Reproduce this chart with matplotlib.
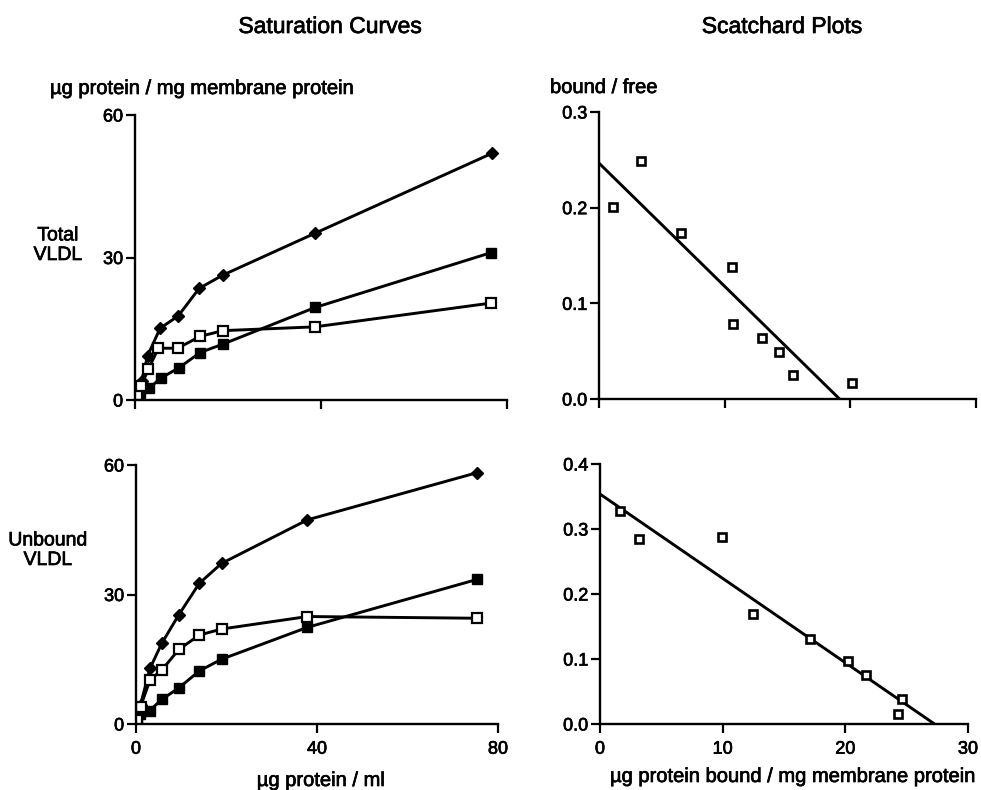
import numpy as np
import matplotlib
matplotlib.use('Agg')
import matplotlib.pyplot as plt
import matplotlib.patheffects as pe

# Saturation curves, total VLDL (top left)
tot_x_circ = [0.4, 1.4, 2.7, 5.4, 9.3, 13.8, 18.9, 38.7, 76.7]
tot_y_circ = [1.5, 3.9, 9.3, 15.1, 17.7, 23.5, 26.3, 35.1, 51.9]
tot_x_fill = [0.3, 1.1, 3.1, 5.5, 9.5, 14.0, 19.0, 38.8, 76.5]
tot_y_fill = [0.8, 1.4, 2.5, 4.6, 6.8, 10.0, 11.8, 19.5, 31.0]
tot_x_open = [0.4, 1.3, 2.9, 5.0, 9.2, 14.0, 18.9, 38.7, 76.5]
tot_y_open = [1.0, 3.0, 6.5, 10.9, 10.9, 13.4, 14.6, 15.4, 20.4]

# Saturation curves, unbound VLDL (bottom left)
unb_x_circ = [0.3, 1.0, 3.1, 5.7, 9.4, 14.0, 18.9, 37.9, 75.3]
unb_y_circ = [1.5, 4.5, 12.9, 18.7, 25.2, 32.6, 37.2, 47.3, 58.2]
unb_x_fill = [0.3, 0.9, 3.0, 5.7, 9.4, 14.0, 18.9, 37.9, 75.4]
unb_y_fill = [0.6, 2.3, 3.1, 5.7, 8.3, 12.3, 15.0, 22.4, 33.5]
unb_x_open = [0.3, 1.0, 3.1, 5.7, 9.5, 14.0, 18.9, 37.9, 75.3]
unb_y_open = [1.0, 4.0, 10.2, 12.5, 17.3, 20.6, 22.0, 24.9, 24.5]

# Scatchard plots
sc_tot_x = [1.1, 3.35, 6.5, 10.6, 10.7, 13.0, 14.3, 15.4, 20.1]
sc_tot_y = [0.201, 0.249, 0.174, 0.138, 0.078, 0.064, 0.049, 0.025, 0.017]
sc_unb_x = [1.66, 3.17, 9.98, 12.5, 17.1, 20.2, 21.7, 24.6, 24.3]
sc_unb_y = [0.328, 0.285, 0.288, 0.170, 0.131, 0.097, 0.076, 0.039, 0.016]

W, H = 981, 790
plt.rcParams['font.family'] = ['Liberation Sans', 'DejaVu Sans']
plt.rcParams['xtick.labelsize'] = 13
plt.rcParams['ytick.labelsize'] = 13

fig = plt.figure(figsize=(W / 100, H / 100), dpi=100)


def px_axes(x0, y0, x1, y1):
    # pixel box (left, top, right, bottom) -> axes
    return fig.add_axes([x0 / W, 1 - y1 / H, (x1 - x0) / W, (y1 - y0) / H])


def style(ax):
    for s in ['top', 'right']:
        ax.spines[s].set_visible(False)
    for s in ['left', 'bottom']:
        ax.spines[s].set_linewidth(1.7)
    ax.tick_params(axis='x', direction='out', length=6.5, width=1.6, pad=5.5)
    ax.tick_params(axis='y', direction='out', length=6.5, width=1.6, pad=2)


lw = 2.1


def saturation(ax, xc, yc, xf, yf, xo, yo):
    ax.plot(xc, yc, '-', color='black', lw=lw, marker='D', ms=6.5, mfc='black', mec='black')
    ax.plot(xf, yf, '-', color='black', lw=lw, marker='s', ms=6.5, mfc='black', mec='black')
    ax.plot(xo, yo, '-', color='black', lw=lw, marker='s', ms=6.5, mfc='white', mec='black', mew=1.6)
    ax.set_xlim(0, 80)
    ax.set_ylim(0, 60)
    ax.set_xticks([0, 40, 80])
    ax.set_yticks([0, 30, 60])
    style(ax)


def scatchard(ax, x, y, ymax):
    m, b = np.polyfit(x, y, 1)
    xl = np.array([0, -b / m])
    ax.plot(xl, m * xl + b, '-', color='black', lw=lw)
    ax.plot(x, y, 's', ms=6.2, mfc='white', mec='black', mew=1.9, ls='none')
    ax.set_xlim(0, 30)
    ax.set_ylim(0, ymax)
    ax.set_xticks([0, 10, 20, 30])
    ax.set_yticks(np.arange(0, ymax + 0.01, 0.1))
    ax.yaxis.set_major_formatter(matplotlib.ticker.FormatStrFormatter('%.1f'))
    style(ax)


ax1 = px_axes(135, 115, 507, 400)
saturation(ax1, tot_x_circ, tot_y_circ, tot_x_fill, tot_y_fill, tot_x_open, tot_y_open)
ax1.set_xticklabels([])

ax2 = px_axes(136, 465, 498, 724)
saturation(ax2, unb_x_circ, unb_y_circ, unb_x_fill, unb_y_fill, unb_x_open, unb_y_open)

ax3 = px_axes(599, 112, 976, 399)
scatchard(ax3, sc_tot_x, sc_tot_y, 0.3)
ax3.set_xticklabels([])

ax4 = px_axes(600, 464, 968, 724)
scatchard(ax4, sc_unb_x, sc_unb_y, 0.4)


def ftext(x, y, s, size, ha='center', va='baseline'):
    fig.text(x / W, 1 - y / H, s, fontsize=size, ha=ha, va=va, linespacing=1.2)


ftext(330, 33, 'Saturation Curves', 16.5)
ftext(782, 33, 'Scatchard Plots', 16.5)
ftext(50, 94, 'µg protein / mg membrane protein', 14.5, ha='left')
ftext(550, 93, 'bound / free', 14.5, ha='left')
ftext(58, 260, 'Total\nVLDL', 14)
ftext(48, 565, 'Unbound\nVLDL', 14)
ftext(321, 786, 'µg protein / ml', 14.5)
ftext(610, 782, 'µg protein bound / mg membrane protein', 14.5, ha='left')

# scanned print looks heavier than a plain regular face
for t in fig.findobj(matplotlib.text.Text):
    t.set_path_effects([pe.withStroke(linewidth=0.5, foreground='black')])

fig.savefig('out.png', dpi=100)
